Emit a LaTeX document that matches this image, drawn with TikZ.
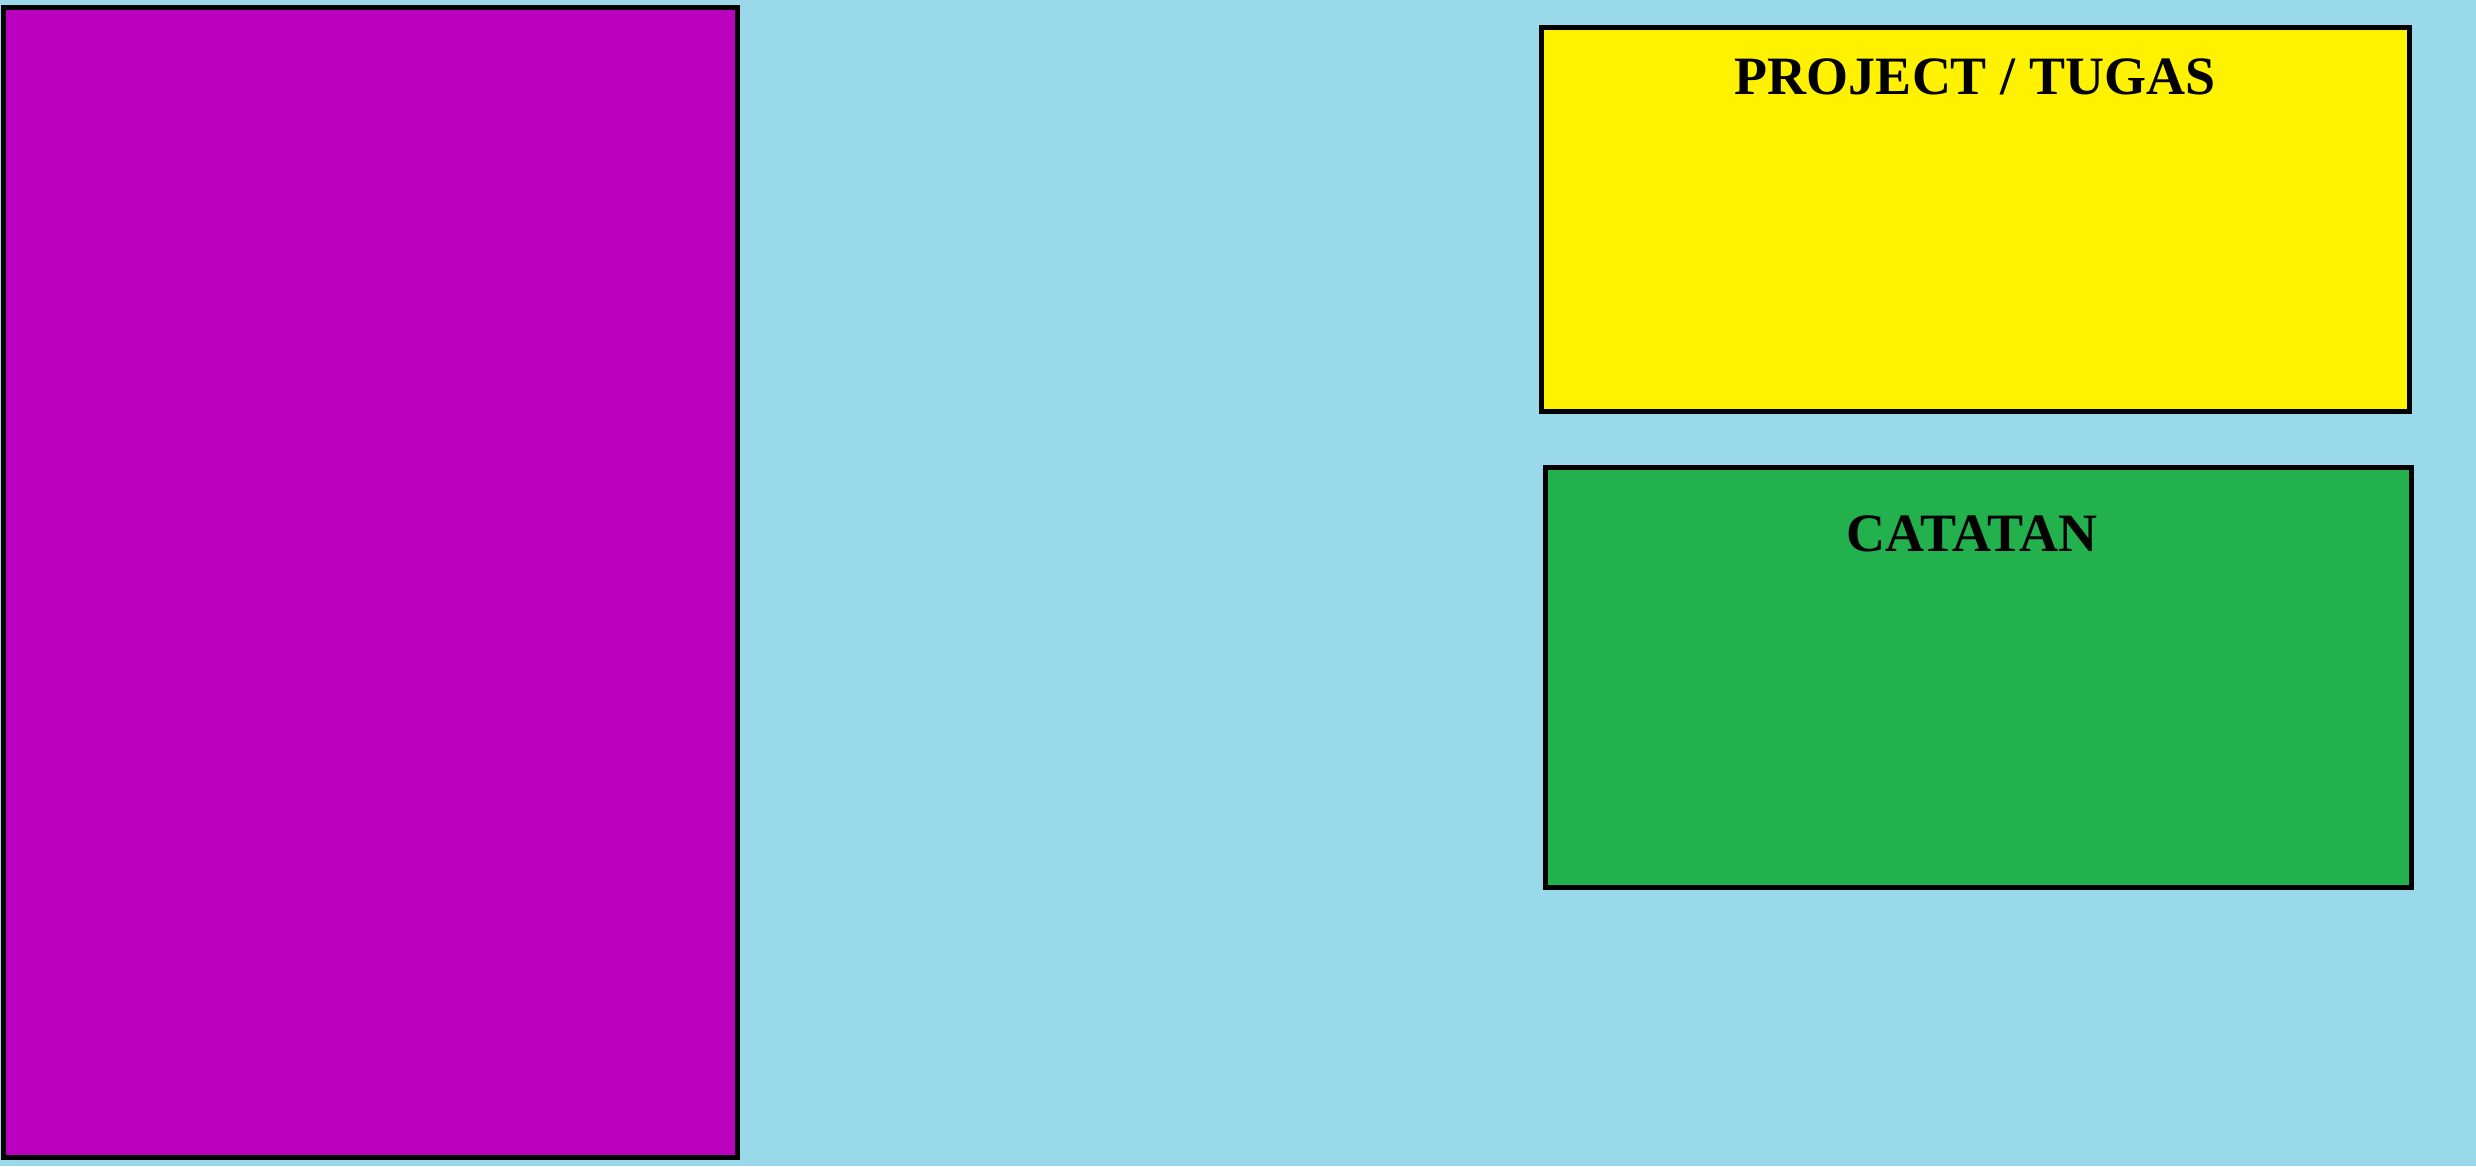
\documentclass[tikz,border=0pt]{standalone}
\usepackage{fontspec}
\setmainfont{Liberation Serif}
\definecolor{bgblue}{RGB}{153,217,234}
\definecolor{boxpurple}{RGB}{187,0,192}
\definecolor{boxyellow}{RGB}{255,242,0}
\definecolor{boxgreen}{RGB}{34,177,76}

\begin{document}
\begin{tikzpicture}[x=0.3pt,y=0.3pt,yscale=-1,
    box/.style={draw=black,line width=1.5pt},
    title/.style={anchor=base,inner sep=0pt,font=\fontsize{16.2}{19}\selectfont\bfseries}]
        %set diagram left start at 0, width 2476 and height 1166
        \fill [bgblue] (0,0) rectangle (2476,1166);
        \useasboundingbox (0,0) rectangle (2476,1166);
        
        %Shape: Rectangle [id:purple]
        \draw [box,fill=boxpurple] (3.5,7.5) rectangle (737.5,1157.5);
        %Shape: Rectangle [id:yellow]
        \draw [box,fill=boxyellow] (1541.5,27.5) rectangle (2409.5,411.5);
        %Shape: Rectangle [id:green]
        \draw [box,fill=boxgreen] (1545.5,467.5) rectangle (2411.5,887.5);
        
        % Text Node
        \node (project) at (1975,94) [title] {PROJECT / TUGAS};
        % Text Node
        \node (catatan) at (1972,551) [title] {CATATAN};
        
\end{tikzpicture}
\end{document}
